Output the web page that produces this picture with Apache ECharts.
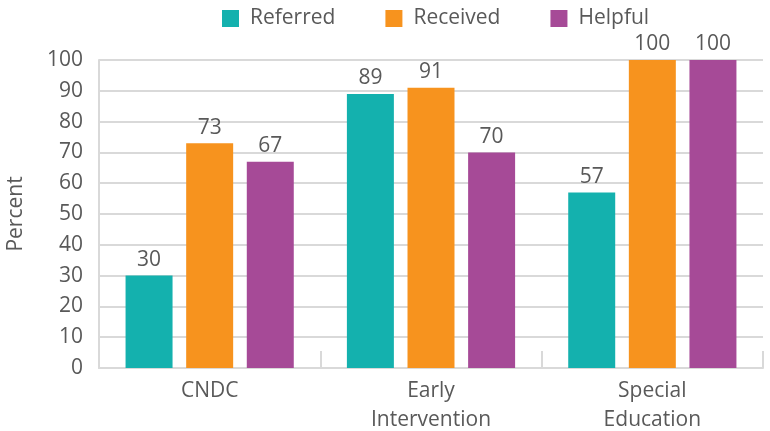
<!DOCTYPE html>
<html>
<head>
<meta charset="utf-8">
<script src="https://cdn.jsdelivr.net/npm/echarts@6/dist/echarts.min.js"></script>
<style>
  html, body { margin: 0; padding: 0; background: #fff; }
  #chart { width: 770px; height: 431px; }
</style>
</head>
<body>
<div id="chart"></div>
<script>
const categories = ['CNDC', 'Early\nIntervention', 'Special\nEducation']
const referred = [30, 89, 57]
const received = [73, 91, 100]
const helpful = [67, 70, 100]
const seriesNames = ['Referred', 'Received', 'Helpful']
const colors = ['#14b1ae', '#f7931e', '#a64a97']

const textColor = '#595959'
const font = 'Open Sans'

const chart = echarts.init(document.getElementById('chart'))

const mkSeries = (name, data, color) => ({
    name: name,
    type: 'bar',
    data: data,
    itemStyle: { color: color },
    barGap: '29%',
    barCategoryGap: '24%',
    label: {
        show: true,
        position: 'top',
        distance: 5,
        color: textColor,
        fontFamily: font,
        fontSize: 21
    }
})

chart.setOption({
    animation: false,
    textStyle: { fontFamily: font },
    legend: {
        data: seriesNames,
        top: 8,
        left: 222,
        padding: 0,
        itemWidth: 17,
        itemHeight: 17,
        itemGap: 50,
        icon: 'rect',
        textStyle: { color: textColor, fontSize: 21, fontFamily: font, padding: [0, 0, 0, 6] }
    },
    grid: { left: 99, right: 7, top: 60, bottom: 63, outerBoundsMode: 'none' },
    xAxis: {
        type: 'category',
        data: categories,
        axisLine: { lineStyle: { color: '#d9d9d9', width: 2 } },
        axisTick: { show: true, inside: true, length: 17, lineStyle: { color: '#d9d9d9', width: 2 } },
        axisLabel: { color: textColor, fontSize: 21, lineHeight: 29, margin: 9, fontFamily: font }
    },
    yAxis: {
        type: 'value',
        min: 0,
        max: 100,
        interval: 10,
        name: 'Percent',
        nameLocation: 'middle',
        nameGap: 72,
        nameTextStyle: { color: textColor, fontSize: 21, fontFamily: font },
        axisLine: { show: true, lineStyle: { color: '#d9d9d9', width: 2 } },
        axisTick: { show: false },
        splitLine: { lineStyle: { color: '#d9d9d9', width: 2 } },
        axisLabel: { color: textColor, fontSize: 21, margin: 16, fontFamily: font }
    },
    series: [
        mkSeries(seriesNames[0], referred, colors[0]),
        mkSeries(seriesNames[1], received, colors[1]),
        mkSeries(seriesNames[2], helpful, colors[2])
    ]
})
</script>
</body>
</html>
